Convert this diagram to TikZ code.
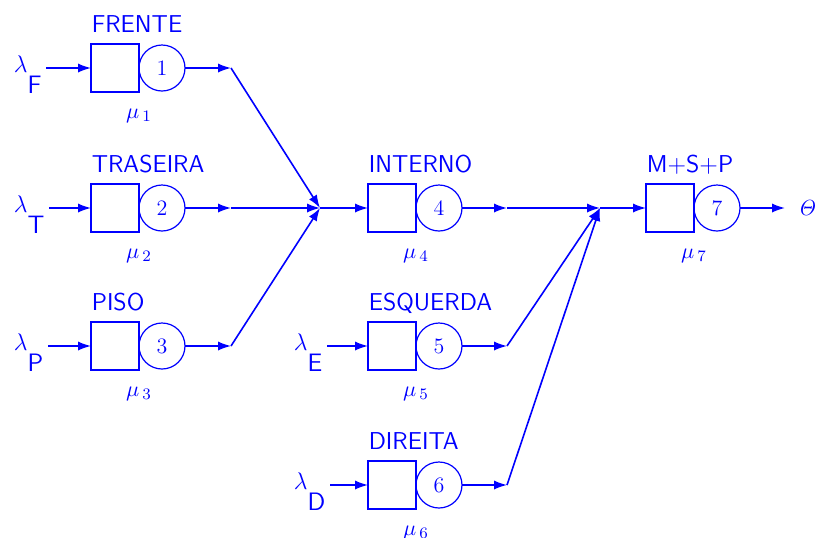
\documentclass[tikz,border=0pt]{standalone}
\usepackage{tikz}
\usetikzlibrary{positioning, arrows.meta}
\usepackage{amsmath}
\usepackage{amssymb}

\begin{document}
\begin{tikzpicture}[x=0.5pt,y=-0.5pt, >={Latex[length=6.5pt,width=4.6pt]}, line width=0.8pt, blue,
  every node/.style={font=\fontsize{11}{13}\selectfont},
  fila/.style={draw, rectangle, line width=0.6pt, minimum size=24pt, inner sep=0pt, outer sep=0pt},
  serv/.style={draw, circle, line width=0.6pt, minimum size=23pt, inner sep=0pt, outer sep=0pt},
  tit/.style={font=\fontsize{12.2}{14}\selectfont\sffamily, inner sep=0pt},
  taxa/.style={inner sep=0pt},
  lam/.style={inner xsep=2pt, inner ysep=0pt, anchor=base west}]
\useasboundingbox (0,0) rectangle (815,537);

\node[fila] (q1) at (115,68) {};
\node[serv, right=0pt of q1] (s1) {1};
\node[fila] (q2) at (115,208) {};
\node[serv, right=0pt of q2] (s2) {2};
\node[fila] (q3) at (115,346) {};
\node[serv, right=0pt of q3] (s3) {3};
\node[fila] (q4) at (392,208) {};
\node[serv, right=0pt of q4] (s4) {4};
\node[fila] (q5) at (392,346) {};
\node[serv, right=0pt of q5] (s5) {5};
\node[fila] (q6) at (392,485) {};
\node[serv, right=0pt of q6] (s6) {6};
\node[fila] (q7) at (670,208) {};
\node[serv, right=0pt of q7] (s7) {7};

\node[tit, above=6pt of q1.north west, anchor=base west] (t1) {FRENTE};
\node[tit, above=6pt of q2.north west, anchor=base west] (t2) {TRASEIRA};
\node[tit, above=6pt of q3.north west, anchor=base west] (t3) {PISO};
\node[tit, above=6pt of q4.north west, anchor=base west] (t4) {INTERNO};
\node[tit, above=6pt of q5.north west, anchor=base west] (t5) {ESQUERDA};
\node[tit, above=6pt of q6.north west, anchor=base west] (t6) {DIREITA};
\node[tit, above=6pt of q7.north west, anchor=base west] (t7) {M+S+P};

\node[taxa, below=8pt of q1.south east] (u1) {$\mu_{\,1}$};
\node[taxa, below=8pt of q2.south east] (u2) {$\mu_{\,2}$};
\node[taxa, below=8pt of q3.south east] (u3) {$\mu_{\,3}$};
\node[taxa, below=8pt of q4.south east] (u4) {$\mu_{\,4}$};
\node[taxa, below=8pt of q5.south east] (u5) {$\mu_{\,5}$};
\node[taxa, below=8pt of q6.south east] (u6) {$\mu_{\,6}$};
\node[taxa, below=8pt of q7.south east] (u7) {$\mu_{\,7}$};

\node[lam] (lF) at (9,72) {\fontsize{13}{15}\selectfont$\lambda$\raisebox{-10.5pt}{\fontsize{12.6}{14}\selectfont\sffamily F}};
\node[lam] (lT) at (9,212) {\fontsize{13}{15}\selectfont$\lambda$\raisebox{-10.5pt}{\fontsize{12.6}{14}\selectfont\sffamily T}};
\node[lam] (lP) at (9,350) {\fontsize{13}{15}\selectfont$\lambda$\raisebox{-10.5pt}{\fontsize{12.6}{14}\selectfont\sffamily P}};
\node[lam] (lE) at (289,350) {\fontsize{13}{15}\selectfont$\lambda$\raisebox{-10.5pt}{\fontsize{12.6}{14}\selectfont\sffamily E}};
\node[lam] (lD) at (289,489) {\fontsize{13}{15}\selectfont$\lambda$\raisebox{-10.5pt}{\fontsize{12.6}{14}\selectfont\sffamily D}};
\node[inner xsep=6pt, inner ysep=0pt, anchor=west] (th) at (785,208) {$\mathit{\Theta}$};

\coordinate (j1) at (231,68);
\coordinate (j2) at (231,208);
\coordinate (j3) at (231,346);
\coordinate (j4) at (507,208);
\coordinate (j5) at (507,346);
\coordinate (j6) at (507,485);
\coordinate (c1) at (320,208);
\coordinate (c2) at (600,208);

\draw[->] (lF.east |- q1) -- (q1);
\draw[->] (lT.east |- q2) -- (q2);
\draw[->] (lP.east |- q3) -- (q3);
\draw[->] (lE.east |- q5) -- (q5);
\draw[->] (lD.east |- q6) -- (q6);

\draw[->] (s1) -- (j1);
\draw[->] (s2) -- (j2);
\draw[->] (s3) -- (j3);
\draw[->] (j1) -- (c1);
\draw[->] (j2) -- (c1);
\draw[->] (j3) -- (c1);
\draw[->] (c1) -- (q4);

\draw[->] (s4) -- (j4);
\draw[->] (s5) -- (j5);
\draw[->] (s6) -- (j6);
\draw[->] (j4) -- (c2);
\draw[->] (j5) -- (c2);
\draw[->] (j6) -- (c2);
\draw[->] (c2) -- (q7);
\draw[->] (s7) -- (th);
\end{tikzpicture}
\end{document}
